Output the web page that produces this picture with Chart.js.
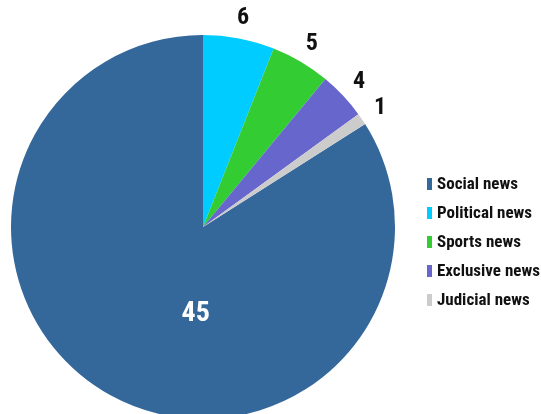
<!DOCTYPE html>
<html>
<head>
<meta charset="utf-8">
<script src="https://cdn.jsdelivr.net/npm/chart.js@4.4.1/dist/chart.umd.min.js"></script>
<style>
  html, body { margin: 0; padding: 0; background: #fff; }
  #wrap { position: relative; width: 541px; height: 414px; overflow: hidden; }
  #legend { position: absolute; left: 427px; top: 169px; margin: 0; padding: 0; list-style: none;
            font: bold 17px "Roboto Condensed", "Liberation Sans Narrow", "DejaVu Sans Condensed", Roboto, sans-serif;
            font-stretch: condensed; color: #111; }
  #legend li { height: 29px; line-height: 29px; display: flex; align-items: center; white-space: nowrap; }
  #legend span.box { display: inline-block; width: 5px; height: 12px; margin-right: 5px; }
</style>
</head>
<body>
<div id="wrap">
  <canvas id="pie" width="541" height="430"></canvas>
  <ul id="legend"></ul>
</div>
<script>
const categories = ["Social news", "Political news", "Sports news", "Exclusive news", "Judicial news"];
// numbers printed on the chart
const shownValues = [45, 6, 5, 4, 1];
const sliceShares = [84, 6, 5, 4, 1];
const colors = ["#34689a", "#00ccff", "#33cc33", "#6666cc", "#cccccc"];

const total = sliceShares.reduce((a, b) => a + b, 0);
const labelFont = "'Roboto Condensed', 'Liberation Sans Narrow', 'DejaVu Sans Condensed', Roboto, sans-serif";

// numbers next to / inside the slices
const valueLabels = {
    id: "valueLabels",
    afterDatasetsDraw(chart) {
        const ctx = chart.ctx;
        const meta = chart.getDatasetMeta(0);
        const top = -Math.PI / 2;
        const full = Math.PI * 2;
        ctx.save();
        ctx.textAlign = "center";
        ctx.textBaseline = "middle";
        meta.data.forEach((arc, i) => {
            const p = arc.getProps(["x", "y", "startAngle", "endAngle", "outerRadius"], true);
            let mid = (p.startAngle + p.endAngle) / 2;
            mid = top + (((mid - top) % full) + full) % full;
            let ang, r;
            if (i === 0) {
                ang = mid - 24 * Math.PI / 180;
                r = p.outerRadius * 0.45;
                ctx.fillStyle = "#ffffff";
                ctx.font = "bold 28px " + labelFont;
            } else {
                ang = mid;
                r = p.outerRadius + 22;
                ctx.fillStyle = "#111111";
                ctx.font = "bold 24px " + labelFont;
            }
            ctx.fillText(String(shownValues[i]), p.x + Math.cos(ang) * r, p.y + Math.sin(ang) * r + 1);
        });
        ctx.restore();
    }
};

const chart = new Chart(document.getElementById("pie"), {
    type: "pie",
    data: {
        labels: categories,
        datasets: [{
            data: sliceShares,
            backgroundColor: colors,
            borderWidth: 0
        }]
    },
    options: {
        responsive: false,
        animation: false,
        rotation: 360 * (total - sliceShares[0]) / total,
        layout: { padding: { left: 11, top: 35, right: 146, bottom: 11 } },
        plugins: {
            legend: { display: false },
            tooltip: { enabled: false }
        }
    },
    plugins: [valueLabels]
});

const legend = document.getElementById("legend");
chart.data.labels.forEach((name, i) => {
    const li = document.createElement("li");
    li.innerHTML = `<span class="box" style="background:${colors[i]}"></span>${name}`;
    legend.appendChild(li);
});
</script>
</body>
</html>
